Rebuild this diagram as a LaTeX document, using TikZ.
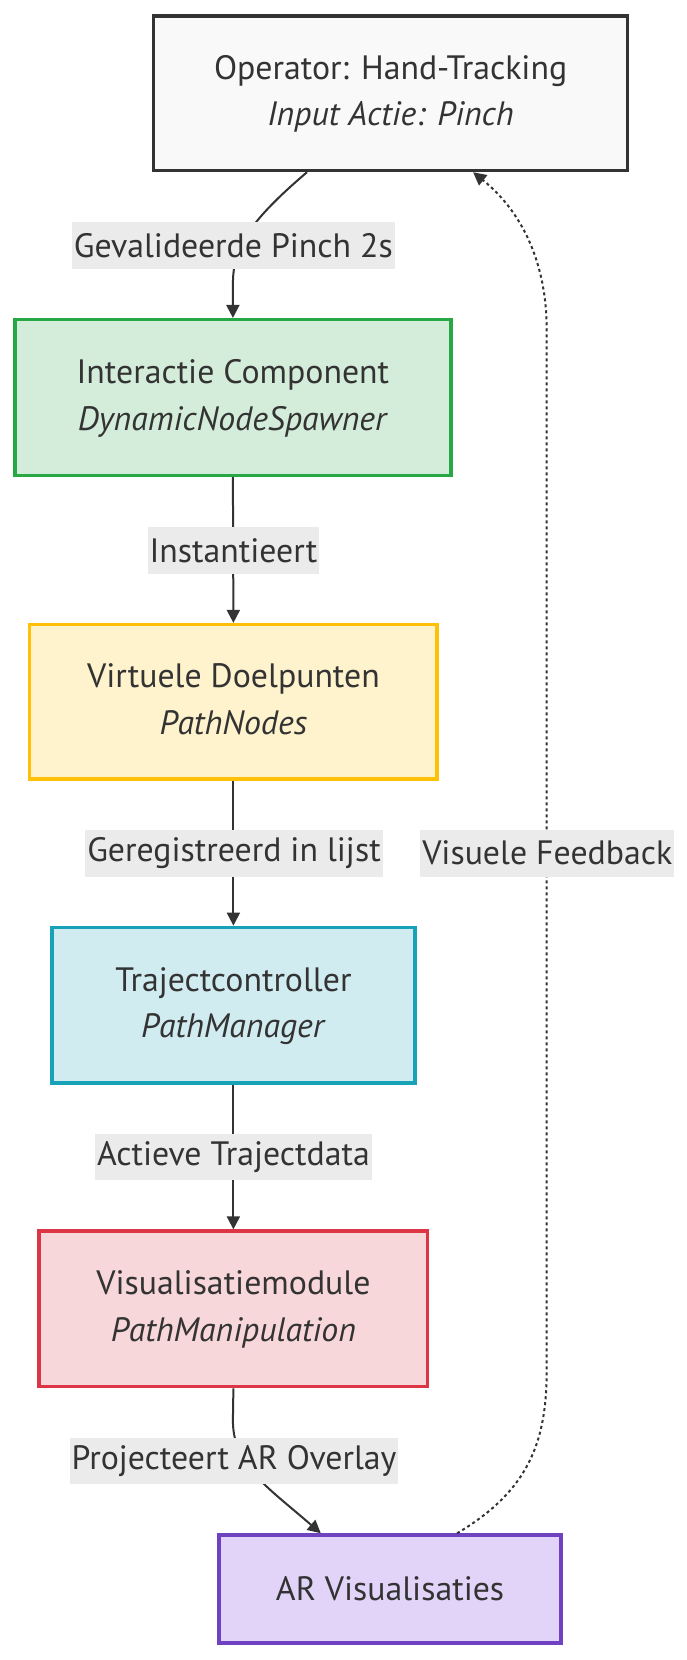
\documentclass[tikz,border=0pt]{standalone}
\usepackage{fontspec}
\setmainfont{PT Sans}
\usetikzlibrary{arrows.meta,calc}
\definecolor{txt}{HTML}{333333}
\definecolor{lblbg}{HTML}{EBEBEB}
\definecolor{topfill}{HTML}{F9F9F9}
\definecolor{topdraw}{HTML}{333333}
\definecolor{gfill}{HTML}{D4EDDA}
\definecolor{gdraw}{HTML}{28A745}
\definecolor{yfill}{HTML}{FFF3CD}
\definecolor{ydraw}{HTML}{FFC107}
\definecolor{cfill}{HTML}{D1ECF1}
\definecolor{cdraw}{HTML}{17A2B8}
\definecolor{rfill}{HTML}{F8D7DA}
\definecolor{rdraw}{HTML}{DC3545}
\definecolor{pfill}{HTML}{E2D4F8}
\definecolor{pdraw}{HTML}{6F42C1}
\newcommand{\twolines}[2]{\raisebox{-3pt}{\begin{tabular}{@{}c@{}}#1\\#2\end{tabular}}}
\tikzset{
  box/.style={rectangle, line width=3.5pt, inner sep=0pt, align=center, text=txt,
    font=\fontsize{33.8}{46.6}\selectfont},
  lbl/.style={rectangle, fill=lblbg, inner xsep=2pt, inner ysep=0pt, minimum height=46.6pt,
    text=txt, font=\fontsize{33.8}{46.6}\selectfont},
  edge/.style={draw=txt, line width=2pt, -{Triangle[length=13pt,width=13pt]}},
  dotedge/.style={edge, dash pattern=on 3pt off 3pt},
}
\begin{document}
\begin{tikzpicture}[x=1pt,y=-1pt]
\useasboundingbox (0,0) rectangle (687,1660);
\node[box, fill=topfill, draw=topdraw, minimum width=474pt, minimum height=154.5pt] (top) at (390.6,93.2)
  {\twolines{Operator: Hand-Tracking}{\textit{Input Actie: Pinch}}};
\node[box, fill=gfill, draw=gdraw, minimum width=436pt, minimum height=155.6pt] (green) at (232.9,397.5)
  {\twolines{Interactie Component}{\textit{DynamicNodeSpawner}}};
\node[box, fill=yfill, draw=ydraw, minimum width=407.6pt, minimum height=154.5pt] (yellow) at (233.4,701.9)
  {\twolines{Virtuele Doelpunten}{\textit{PathNodes}}};
\node[box, fill=cfill, draw=cdraw, minimum width=363pt, minimum height=155.6pt] (cyan) at (233.4,1005.2)
  {\twolines{Trajectcontroller}{\textit{PathManager}}};
\node[box, fill=rfill, draw=rdraw, minimum width=388.5pt, minimum height=155.6pt] (red) at (233.4,1308.9)
  {\twolines{Visualisatiemodule}{\textit{PathManipulation}}};
\node[box, fill=pfill, draw=pdraw, minimum width=342pt, minimum height=108pt] (purple) at (390.1,1589)
  {AR Visualisaties};

% edges
\draw[edge] ([xshift=-83.6pt]top.south) .. controls (245,225) and (232.9,250) .. (232.9,285) -- (green.north);
\draw[edge] (green.south) -- (yellow.north);
\draw[edge] (yellow.south) -- (cyan.north);
\draw[edge] (cyan.south) -- (red.north);
\draw[edge] (red.south) -- (232.9,1420) .. controls (232.9,1465) and (265,1485) .. ([xshift=-69.3pt]purple.north);
\draw[dotedge] ([xshift=67pt]purple.north) .. controls (530,1490) and (546.7,1440) .. (546.7,1370)
  -- (546.7,330) .. controls (546.7,260) and (520,210) .. ([xshift=82.5pt]top.south);

% labels
\node[lbl] (l1) at (233.4,245.6) {Gevalideerde Pinch 2s};
\node[lbl] (l2) at (233.4,550.5) {Instantieert};
\node[lbl] (l3) at (234,853.2) {Geregistreerd in lijst};
\node[lbl] (l4) at (233.4,1157) {Actieve Trajectdata};
\node[lbl] (l5) at (234,1461) {Projecteert AR Overlay};
\node[lbl] (l6) at (547.3,853.2) {Visuele Feedback};
\end{tikzpicture}
\end{document}
